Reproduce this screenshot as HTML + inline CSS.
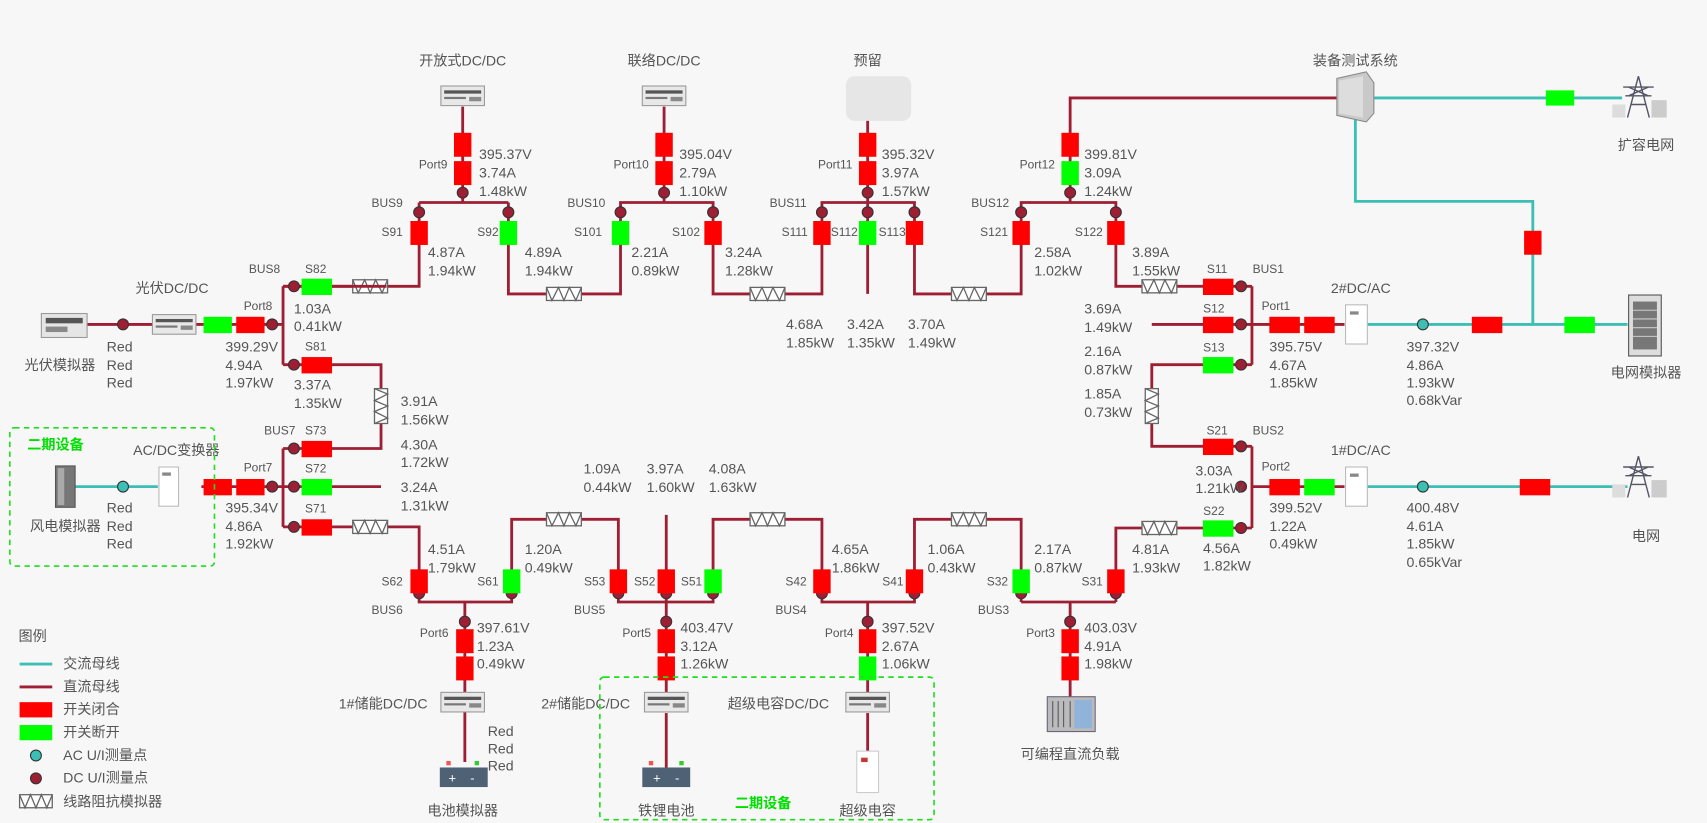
<!DOCTYPE html>
<html><head><meta charset="utf-8"><style>
html,body{margin:0;padding:0;background:#f7f7f7;}
svg{display:block;}
text{font-family:"Liberation Sans","Noto Sans CJK SC",sans-serif;fill:#555;font-size:13px;}
.s{font-size:11px;}
.c{text-anchor:middle;}
.e{text-anchor:end;}
.ln{stroke:#9e1f34;stroke-width:2.6;fill:none;}
.tl{stroke:#3cbfb4;stroke-width:2.6;fill:none;}
.r{fill:#ff0000;}
.g{fill:#00ff00;}
.d{fill:#9e1f34;stroke:#333;stroke-width:1;}
.a{fill:#3cbfb4;stroke:#333;stroke-width:1;}
.im{fill:#fff;stroke:#666;stroke-width:1.2;}
.zz{fill:none;stroke:#666;stroke-width:1.2;}
.gt{fill:#00e000;font-weight:bold;}
</style></head><body>
<svg width="1707" height="823" viewBox="0 0 1568 756" preserveAspectRatio="none" xmlns="http://www.w3.org/2000/svg">
<defs>
<g id="imh"><rect class="im" x="-16" y="-6" width="32" height="12"/><polyline class="zz" points="-16,-6 -11,6 -5,-6 0,6 5,-6 11,6 16,-6"/></g>
<g id="imv"><rect class="im" x="-6" y="-16" width="12" height="32"/><polyline class="zz" points="-6,-16 6,-11 -6,-5 6,0 -6,5 6,11 -6,16"/></g>
<g id="dev"><rect x="-20" y="-9" width="40" height="18" fill="#e8e8e8" stroke="#999"/><rect x="-17" y="-5" width="34" height="3" fill="#555"/><rect x="-17" y="1" width="20" height="2" fill="#777"/><rect x="6" y="1" width="11" height="4" fill="#888"/></g>
<g id="tower"><path d="M0,-28 L-10,10 M0,-28 L10,10 M-14,-18 L14,-18 M-12,-10 L12,-10 M-7,-2 L7,-2 M-9,-18 L9,-10 M9,-18 L-9,-10" stroke="#556" stroke-width="1.3" fill="none"/><rect x="12" y="-6" width="14" height="16" fill="#ccc"/><rect x="-24" y="-2" width="12" height="12" fill="#ddd"/></g>
</defs>

<!-- TOP: Port9 -->
<use href="#dev" x="425" y="88"/>
<path class="ln" d="M425,98 V186 M385,186 H467 M385,186 V263 H260 M467,186 V270 H570 V186 H655 V270 H755 V186 H840 V270 H938 V186 H1025 V263 H1150 M797,186 V270 M610,98 V186 M797,110 V186 M983,186 V90 H1228"/>
<rect class="r" x="417" y="122" width="16" height="22"/><rect class="r" x="417" y="148" width="16" height="22"/>
<circle class="d" cx="425" cy="177" r="5"/><circle class="d" cx="385" cy="195" r="5"/><circle class="d" cx="467" cy="195" r="5"/>
<rect class="r" x="377" y="203" width="16" height="22"/><rect class="g" x="459" y="203" width="16" height="22"/>
<use href="#imh" x="340" y="263"/><use href="#imh" x="518" y="270"/>
<text x="425" y="60" class="c">开放式DC/DC</text>
<text x="411" y="155" class="s e">Port9</text>
<text x="440" y="146">395.37V</text><text x="440" y="163">3.74A</text><text x="440" y="180">1.48kW</text>
<text x="370" y="190" class="s e">BUS9</text>
<text x="370" y="217" class="s e">S91</text><text x="458" y="217" class="s e">S92</text>
<text x="393" y="236">4.87A</text><text x="393" y="253">1.94kW</text>
<text x="482" y="236">4.89A</text><text x="482" y="253">1.94kW</text>

<!-- Port10 -->
<use href="#dev" x="610" y="88"/>
<rect class="r" x="602" y="122" width="16" height="22"/><rect class="r" x="602" y="148" width="16" height="22"/>
<circle class="d" cx="610" cy="177" r="5"/><circle class="d" cx="570" cy="195" r="5"/><circle class="d" cx="655" cy="195" r="5"/>
<rect class="g" x="562" y="203" width="16" height="22"/><rect class="r" x="647" y="203" width="16" height="22"/>
<use href="#imh" x="705" y="270"/>
<text x="610" y="60" class="c">联络DC/DC</text>
<text x="596" y="155" class="s e">Port10</text>
<text x="624" y="146">395.04V</text><text x="624" y="163">2.79A</text><text x="624" y="180">1.10kW</text>
<text x="556" y="190" class="s e">BUS10</text>
<text x="553" y="217" class="s e">S101</text><text x="643" y="217" class="s e">S102</text>
<text x="580" y="236">2.21A</text><text x="580" y="253">0.89kW</text>
<text x="666" y="236">3.24A</text><text x="666" y="253">1.28kW</text>

<!-- Port11 -->
<rect x="777" y="70" width="60" height="41" rx="8" fill="#e6e6e6"/>
<rect class="r" x="789" y="122" width="16" height="22"/><rect class="r" x="789" y="148" width="16" height="22"/>
<circle class="d" cx="797" cy="177" r="5"/><circle class="d" cx="755" cy="195" r="5"/><circle class="d" cx="797" cy="195" r="5"/><circle class="d" cx="840" cy="195" r="5"/>
<rect class="r" x="747" y="203" width="16" height="22"/><rect class="g" x="789" y="203" width="16" height="22"/><rect class="r" x="832" y="203" width="16" height="22"/>
<use href="#imh" x="890" y="270"/>
<text x="797" y="60" class="c">预留</text>
<text x="783" y="155" class="s e">Port11</text>
<text x="810" y="146">395.32V</text><text x="810" y="163">3.97A</text><text x="810" y="180">1.57kW</text>
<text x="741" y="190" class="s e">BUS11</text>
<text x="742" y="217" class="s e">S111</text><text x="788" y="217" class="s e">S112</text><text x="832" y="217" class="s e">S113</text>
<text x="722" y="302">4.68A</text><text x="722" y="319">1.85kW</text>
<text x="778" y="302">3.42A</text><text x="778" y="319">1.35kW</text>
<text x="834" y="302">3.70A</text><text x="834" y="319">1.49kW</text>

<!-- Port12 -->
<rect class="r" x="975" y="122" width="16" height="22"/><rect class="g" x="975" y="148" width="16" height="22"/>
<circle class="d" cx="983" cy="177" r="5"/><circle class="d" cx="938" cy="195" r="5"/><circle class="d" cx="1025" cy="195" r="5"/>
<rect class="r" x="930" y="203" width="16" height="22"/><rect class="r" x="1017" y="203" width="16" height="22"/>
<use href="#imh" x="1065" y="263"/>
<text x="969" y="155" class="s e">Port12</text>
<text x="996" y="146">399.81V</text><text x="996" y="163">3.09A</text><text x="996" y="180">1.24kW</text>
<text x="927" y="190" class="s e">BUS12</text>
<text x="926" y="217" class="s e">S121</text><text x="1013" y="217" class="s e">S122</text>
<text x="950" y="236">2.58A</text><text x="950" y="253">1.02kW</text>
<text x="1040" y="236">3.89A</text><text x="1040" y="253">1.55kW</text>

<!-- Equipment test system & grids -->
<path class="tl" d="M1262,90 H1490 M1245,108 V185 H1408 V298 M1255,298 H1495 M1255,447 H1495"/>
<path d="M1228,72 L1255,66 L1262,76 L1262,104 L1255,112 L1228,106 Z" fill="#c9c9c9" stroke="#888"/>
<path d="M1230,74 L1252,70 L1252,108 L1230,104 Z" fill="#ddd"/>
<text x="1245" y="60" class="c">装备测试系统</text>
<rect class="g" x="1420" y="83" width="26" height="14"/>
<use href="#tower" x="1505" y="98"/>
<text x="1512" y="138" class="c">扩容电网</text>
<rect class="r" x="1400" y="212" width="16" height="22"/>

<!-- BUS1 -->
<path class="ln" d="M1150,263 V335 M1058,298 H1235 M1150,335 H1058 V410 H1150 M1150,410 V485 M1150,447 H1235 M1150,485 H1025 V553"/>
<circle class="d" cx="1140" cy="263" r="5"/><circle class="d" cx="1140" cy="298" r="5"/><circle class="d" cx="1140" cy="335" r="5"/>
<rect class="r" x="1105" y="256" width="28" height="15"/><rect class="r" x="1105" y="291" width="28" height="15"/><rect class="g" x="1105" y="328" width="28" height="15"/>
<use href="#imv" x="1058" y="373"/>
<rect class="r" x="1166" y="291" width="28" height="15"/><rect class="r" x="1198" y="291" width="28" height="15"/>
<rect x="1236" y="280" width="20" height="36" fill="#fff" stroke="#bbb"/><rect x="1240" y="286" width="8" height="3" fill="#888"/>
<circle class="a" cx="1307" cy="298" r="5"/>
<rect class="r" x="1352" y="291" width="28" height="15"/><rect class="g" x="1437" y="291" width="28" height="15"/>
<rect x="1496" y="271" width="30" height="56" fill="#ddd" stroke="#555"/><rect x="1500" y="277" width="22" height="44" fill="#777"/><path d="M1500,285 H1522 M1500,293 H1522 M1500,301 H1522 M1500,309 H1522" stroke="#ccc"/>
<text x="1118" y="251" class="s c">S11</text><text x="1165" y="251" class="s c">BUS1</text>
<text x="1115" y="287" class="s c">S12</text><text x="1115" y="323" class="s c">S13</text>
<text x="996" y="288">3.69A</text><text x="996" y="305">1.49kW</text>
<text x="996" y="327">2.16A</text><text x="996" y="344">0.87kW</text>
<text x="996" y="366">1.85A</text><text x="996" y="383">0.73kW</text>
<text x="1250" y="269" class="c">2#DC/AC</text>
<text x="1172" y="285" class="s c">Port1</text>
<text x="1166" y="323">395.75V</text><text x="1166" y="340">4.67A</text><text x="1166" y="356">1.85kW</text>
<text x="1292" y="323">397.32V</text><text x="1292" y="340">4.86A</text><text x="1292" y="356">1.93kW</text><text x="1292" y="372">0.68kVar</text>
<text x="1512" y="347" class="c">电网模拟器</text>

<!-- BUS2 -->
<circle class="d" cx="1140" cy="410" r="5"/><circle class="d" cx="1140" cy="447" r="5"/><circle class="d" cx="1140" cy="485" r="5"/>
<rect class="r" x="1105" y="403" width="28" height="15"/><rect class="g" x="1105" y="478" width="28" height="15"/>
<rect class="r" x="1166" y="440" width="28" height="15"/><rect class="g" x="1198" y="440" width="28" height="15"/>
<rect x="1236" y="429" width="20" height="36" fill="#fff" stroke="#bbb"/><rect x="1240" y="435" width="8" height="3" fill="#888"/>
<circle class="a" cx="1307" cy="447" r="5"/>
<rect class="r" x="1396" y="440" width="28" height="15"/>
<use href="#tower" x="1505" y="447"/>
<use href="#imh" x="1065" y="485"/>
<text x="1118" y="399" class="s c">S21</text><text x="1165" y="399" class="s c">BUS2</text>
<text x="1250" y="418" class="c">1#DC/AC</text>
<text x="1172" y="432" class="s c">Port2</text>
<text x="1098" y="437">3.03A</text><text x="1098" y="453">1.21kW</text>
<text x="1115" y="473" class="s c">S22</text>
<text x="1105" y="508">4.56A</text><text x="1105" y="524">1.82kW</text>
<text x="1166" y="471">399.52V</text><text x="1166" y="488">1.22A</text><text x="1166" y="504">0.49kW</text>
<text x="1292" y="471">400.48V</text><text x="1292" y="488">4.61A</text><text x="1292" y="504">1.85kW</text><text x="1292" y="521">0.65kVar</text>
<text x="1512" y="497" class="c">电网</text>
<text x="1040" y="509">4.81A</text><text x="1040" y="526">1.93kW</text>

<!-- BOTTOM buses -->
<path class="ln" d="M938,553 H1025 M938,553 V477 H840 V553 H755 V477 H655 V553 H568 V477 H470 V553 H385 V484 H260 M612,553 V473 M983,553 V640 M797,553 V640 M612,553 V640 M427,553 V700"/>
<!-- BUS3 -->
<circle class="d" cx="938" cy="545" r="5"/><circle class="d" cx="1025" cy="545" r="5"/><circle class="d" cx="983" cy="571" r="5"/>
<rect class="g" x="930" y="523" width="16" height="22"/><rect class="r" x="1017" y="523" width="16" height="22"/>
<rect class="r" x="975" y="578" width="16" height="22"/><rect class="r" x="975" y="603" width="16" height="22"/>
<use href="#imh" x="890" y="477"/>
<text x="927" y="564" class="s e">BUS3</text><text x="926" y="538" class="s e">S32</text><text x="1013" y="538" class="s e">S31</text>
<text x="950" y="509">2.17A</text><text x="950" y="526">0.87kW</text>
<text x="969" y="585" class="s e">Port3</text>
<text x="996" y="581">403.03V</text><text x="996" y="598">4.91A</text><text x="996" y="614">1.98kW</text>
<rect x="962" y="640" width="44" height="32" fill="#bbb" stroke="#667"/><path d="M967,644 v24 M972,644 v24 M977,644 v24 M983,644 v24" stroke="#556"/><rect x="987" y="643" width="16" height="26" fill="#8fb3d9"/>
<text x="983" y="697" class="c">可编程直流负载</text>
<!-- BUS4 -->
<circle class="d" cx="755" cy="545" r="5"/><circle class="d" cx="840" cy="545" r="5"/><circle class="d" cx="797" cy="571" r="5"/>
<rect class="r" x="747" y="523" width="16" height="22"/><rect class="r" x="832" y="523" width="16" height="22"/>
<rect class="r" x="789" y="578" width="16" height="22"/><rect class="g" x="789" y="603" width="16" height="22"/>
<use href="#imh" x="705" y="477"/>
<text x="741" y="564" class="s e">BUS4</text><text x="741" y="538" class="s e">S42</text><text x="830" y="538" class="s e">S41</text>
<text x="764" y="509">4.65A</text><text x="764" y="526">1.86kW</text>
<text x="852" y="509">1.06A</text><text x="852" y="526">0.43kW</text>
<text x="784" y="585" class="s e">Port4</text>
<text x="810" y="581">397.52V</text><text x="810" y="598">2.67A</text><text x="810" y="614">1.06kW</text>
<use href="#dev" x="797" y="645"/>
<text x="715" y="651" class="c">超级电容DC/DC</text>
<path class="ln" d="M797,655 V690"/>
<rect x="787" y="690" width="20" height="38" fill="#fff" stroke="#ccc"/><rect x="791" y="696" width="6" height="4" fill="#c33"/>
<text x="797" y="749" class="c">超级电容</text>
<!-- BUS5 -->
<circle class="d" cx="568" cy="545" r="5"/><circle class="d" cx="612" cy="545" r="5"/><circle class="d" cx="655" cy="545" r="5"/><circle class="d" cx="612" cy="571" r="5"/>
<rect class="r" x="560" y="523" width="16" height="22"/><rect class="r" x="604" y="523" width="16" height="22"/><rect class="g" x="647" y="523" width="16" height="22"/>
<rect class="r" x="604" y="578" width="16" height="22"/><rect class="r" x="604" y="603" width="16" height="22"/>
<use href="#imh" x="518" y="477"/>
<text x="556" y="564" class="s e">BUS5</text><text x="556" y="538" class="s e">S53</text><text x="602" y="538" class="s e">S52</text><text x="645" y="538" class="s e">S51</text>
<text x="536" y="435">1.09A</text><text x="536" y="452">0.44kW</text>
<text x="594" y="435">3.97A</text><text x="594" y="452">1.60kW</text>
<text x="651" y="435">4.08A</text><text x="651" y="452">1.63kW</text>
<text x="598" y="585" class="s e">Port5</text>
<text x="625" y="581">403.47V</text><text x="625" y="598">3.12A</text><text x="625" y="614">1.26kW</text>
<use href="#dev" x="612" y="645"/>
<text x="538" y="651" class="c">2#储能DC/DC</text>
<path class="ln" d="M612,655 V705"/>
<rect x="590" y="705" width="44" height="18" fill="#4f6175"/><text x="600" y="719" style="fill:#fff;font-size:12px">+</text><text x="620" y="719" style="fill:#fff;font-size:12px">-</text>
<rect x="596" y="699" width="4" height="4" fill="#e55"/><rect x="624" y="699" width="4" height="4" fill="#3c3"/>
<text x="612" y="749" class="c">铁锂电池</text>
<!-- BUS6 -->
<circle class="d" cx="385" cy="545" r="5"/><circle class="d" cx="470" cy="545" r="5"/><circle class="d" cx="427" cy="571" r="5"/>
<rect class="r" x="377" y="523" width="16" height="22"/><rect class="g" x="462" y="523" width="16" height="22"/>
<rect class="r" x="419" y="578" width="16" height="22"/><rect class="r" x="419" y="603" width="16" height="22"/>
<use href="#imh" x="340" y="484"/>
<text x="370" y="564" class="s e">BUS6</text><text x="370" y="538" class="s e">S62</text><text x="458" y="538" class="s e">S61</text>
<text x="393" y="509">4.51A</text><text x="393" y="526">1.79kW</text>
<text x="482" y="509">1.20A</text><text x="482" y="526">0.49kW</text>
<text x="412" y="585" class="s e">Port6</text>
<text x="438" y="581">397.61V</text><text x="438" y="598">1.23A</text><text x="438" y="614">0.49kW</text>
<use href="#dev" x="425" y="645"/>
<text x="352" y="651" class="c">1#储能DC/DC</text>
<rect x="404" y="705" width="44" height="18" fill="#4f6175"/><text x="412" y="719" style="fill:#fff;font-size:12px">+</text><text x="432" y="719" style="fill:#fff;font-size:12px">-</text>
<rect x="410" y="699" width="4" height="4" fill="#e55"/><rect x="436" y="699" width="4" height="4" fill="#3c3"/>
<text x="448" y="676">Red</text><text x="448" y="692">Red</text><text x="448" y="708">Red</text>
<text x="425" y="749" class="c">电池模拟器</text>

<!-- LEFT BUS8 / BUS7 -->
<path class="ln" d="M260,263 V335 M260,263 H355 M260,335 H350 V412 H260 M260,412 V484 M260,447 H350 M260,298 H170 M140,298 H60 M260,447 H185"/>
<path class="tl" d="M60,447 H145"/>
<circle class="d" cx="270" cy="263" r="5"/><circle class="d" cx="270" cy="335" r="5"/><circle class="d" cx="250" cy="298" r="5"/>
<rect class="g" x="277" y="256" width="28" height="15"/><rect class="r" x="277" y="328" width="28" height="15"/>
<use href="#imv" x="350" y="373"/>
<rect class="r" x="217" y="291" width="26" height="15"/><rect class="g" x="187" y="291" width="26" height="15"/>
<use href="#dev" x="160" y="298"/>
<circle class="d" cx="113" cy="298" r="5"/>
<rect x="38" y="288" width="42" height="22" fill="#e5e5e5" stroke="#999"/><rect x="42" y="292" width="34" height="5" fill="#555"/><rect x="42" y="300" width="20" height="5" fill="#888"/>
<text x="243" y="251" class="s c">BUS8</text><text x="290" y="251" class="s c">S82</text><text x="290" y="322" class="s c">S81</text>
<text x="237" y="285" class="s c">Port8</text>
<text x="158" y="269" class="c">光伏DC/DC</text>
<text x="270" y="288">1.03A</text><text x="270" y="304">0.41kW</text>
<text x="207" y="323">399.29V</text><text x="207" y="340">4.94A</text><text x="207" y="356">1.97kW</text>
<text x="270" y="358">3.37A</text><text x="270" y="375">1.35kW</text>
<text x="55" y="340" class="c">光伏模拟器</text>
<text x="98" y="323">Red</text><text x="98" y="340">Red</text><text x="98" y="356">Red</text>
<text x="368" y="373">3.91A</text><text x="368" y="390">1.56kW</text>

<circle class="d" cx="270" cy="412" r="5"/><circle class="d" cx="270" cy="447" r="5"/><circle class="d" cx="270" cy="484" r="5"/><circle class="d" cx="250" cy="447" r="5"/>
<rect class="r" x="277" y="405" width="28" height="15"/><rect class="g" x="277" y="440" width="28" height="15"/><rect class="r" x="277" y="477" width="28" height="15"/>
<rect class="r" x="217" y="440" width="26" height="15"/><rect class="r" x="187" y="440" width="26" height="15"/>
<rect x="146" y="429" width="18" height="36" fill="#fff" stroke="#bbb"/><rect x="149" y="434" width="8" height="3" fill="#888"/>
<circle class="a" cx="113" cy="447" r="5"/>
<rect x="51" y="428" width="18" height="38" fill="#777" stroke="#555"/><rect x="53" y="430" width="6" height="34" fill="#aaa"/>
<text x="257" y="399" class="s c">BUS7</text><text x="290" y="399" class="s c">S73</text><text x="290" y="434" class="s c">S72</text><text x="290" y="471" class="s c">S71</text>
<text x="237" y="433" class="s c">Port7</text>
<text x="162" y="418" class="c">AC/DC变换器</text>
<text x="368" y="413">4.30A</text><text x="368" y="429">1.72kW</text>
<text x="368" y="452">3.24A</text><text x="368" y="469">1.31kW</text>
<text x="207" y="471">395.34V</text><text x="207" y="488">4.86A</text><text x="207" y="504">1.92kW</text>
<text x="98" y="471">Red</text><text x="98" y="488">Red</text><text x="98" y="504">Red</text>
<text x="60" y="488" class="c">风电模拟器</text>

<!-- dashed boxes -->
<rect x="9" y="393" width="188" height="127" rx="4" fill="none" stroke="#22dd22" stroke-width="1.5" stroke-dasharray="5,4"/>
<text x="25" y="413" class="gt">二期设备</text>
<rect x="551" y="622" width="307" height="131" rx="4" fill="none" stroke="#22dd22" stroke-width="1.5" stroke-dasharray="5,4"/>
<text x="675" y="742" class="gt">二期设备</text>

<!-- legend -->
<text x="17" y="589">图例</text>
<path class="tl" d="M18,610 H48"/><text x="58" y="614">交流母线</text>
<path class="ln" d="M18,631 H48"/><text x="58" y="635">直流母线</text>
<rect class="r" x="18" y="645" width="30" height="14"/><text x="58" y="656">开关闭合</text>
<rect class="g" x="18" y="666" width="30" height="14"/><text x="58" y="677">开关断开</text>
<circle class="a" cx="33" cy="694" r="5"/><text x="58" y="698">AC U/I测量点</text>
<circle class="d" cx="33" cy="715" r="5"/><text x="58" y="719">DC U/I测量点</text>
<g transform="translate(33,736)"><rect class="im" x="-15" y="-6" width="30" height="12"/><polyline class="zz" points="-15,-6 -10,6 -5,-6 0,6 5,-6 10,6 15,-6"/></g><text x="58" y="741">线路阻抗模拟器</text>
</svg>
</body></html>
